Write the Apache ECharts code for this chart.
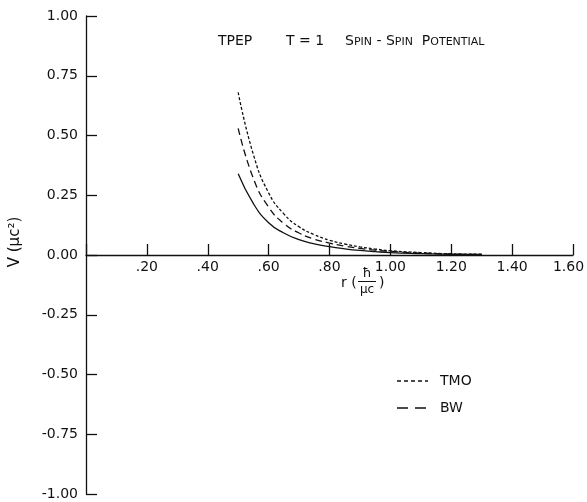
<!DOCTYPE html>
<html><head><meta charset="utf-8">
<script src="https://cdn.jsdelivr.net/npm/echarts@6/dist/echarts.min.js"></script>
<style>html,body{margin:0;padding:0;background:#fff}#c{width:587px;height:502px}</style>
</head><body><div id="c"></div>
<script>
const rValues = [0.5, 0.55, 0.6, 0.65, 0.7, 0.75, 0.8, 0.85, 0.9, 0.95, 1.0, 1.1, 1.2, 1.3];
const solidValues = [0.34, 0.215, 0.135, 0.092, 0.064, 0.047, 0.035, 0.026, 0.019, 0.014, 0.010, 0.006, 0.003, 0.002];
const bwValues    = [0.53, 0.32, 0.20, 0.132, 0.092, 0.066, 0.050, 0.037, 0.028, 0.020, 0.015, 0.008, 0.004, 0.002];
const tmoValues   = [0.68, 0.42, 0.26, 0.172, 0.118, 0.085, 0.062, 0.046, 0.034, 0.025, 0.018, 0.010, 0.005, 0.003];
const xTicks = [0, 0.2, 0.4, 0.6, 0.8, 1.0, 1.2, 1.4, 1.6];
const yTicks = [-1, -0.75, -0.5, -0.25, 0, 0.25, 0.5, 0.75, 1];

const FONT = 'DejaVu Sans';
const GRID_TOP = 16, GRID_BOTTOM = 8, H = 502;
const zeroOffset = -((H - GRID_TOP - GRID_BOTTOM) / 2);
const pairs = v => rValues.map((r, i) => [r, v[i]]);
const chart = echarts.init(document.getElementById('c'), null, {renderer: 'canvas'});
const lineBase = {type: 'line', smooth: true, symbol: 'none', animation: false};
chart.setOption({
  animation: false,
  backgroundColor: '#fff',
  grid: {left: 86, right: 14, top: GRID_TOP, bottom: GRID_BOTTOM, containLabel: false, outerBoundsMode: 'none'},
  xAxis: {
    type: 'value', min: xTicks[0], max: xTicks[xTicks.length - 1], interval: 0.2,
    position: 'bottom', offset: zeroOffset,
    axisLine: {onZero: false, lineStyle: {color: '#111', width: 1.3}},
    axisTick: {inside: true, length: 11, lineStyle: {color: '#111', width: 1.3}},
    axisLabel: {color: '#111', fontFamily: FONT, fontSize: 14, margin: 5, hideOverlap: false,
      rich: {last: {fontFamily: FONT, fontSize: 14, color: '#111', padding: [0, 9, 0, 0]}},
      formatter: v => {
        if (Math.abs(v) < 1e-9) return '';
        const s = v.toFixed(2);
        if (Math.abs(v - xTicks[xTicks.length - 1]) < 1e-9) return '{last|' + s + '}';
        return v < 1 ? s.slice(1) : s;
      }},
    splitLine: {show: false}
  },
  yAxis: {
    type: 'value', min: yTicks[0], max: yTicks[yTicks.length - 1], interval: 0.25,
    axisLine: {onZero: false, lineStyle: {color: '#111', width: 1.3}},
    axisTick: {inside: true, length: 11, lineStyle: {color: '#111', width: 1.3}},
    axisLabel: {color: '#111', fontFamily: FONT, fontSize: 14, margin: 8, hideOverlap: false,
      formatter: v => v.toFixed(2)},
    splitLine: {show: false}
  },
  series: [
    Object.assign({}, lineBase, {name: 'Solid', data: pairs(solidValues), lineStyle: {color: '#111', width: 1.3, type: 'solid'}}),
    Object.assign({}, lineBase, {name: 'BW', data: pairs(bwValues), lineStyle: {color: '#111', width: 1.3, type: [7, 4]}}),
    Object.assign({}, lineBase, {name: 'TMO', data: pairs(tmoValues), lineStyle: {color: '#111', width: 1.3, type: [3, 2]}})
  ],
  graphic: [
    {type: 'text', left: 218, top: 34, style: {text: 'TPEP', fill: '#111', font: '14px ' + FONT}},
    {type: 'text', left: 286, top: 34, style: {text: 'T = 1', fill: '#111', font: '14px ' + FONT}},
    {type: 'text', left: 345, top: 34, style: {
      text: '{b|S}{s|PIN} - {b|S}{s|PIN}  {b|P}{s|OTENTIAL}', fill: '#111',
      rich: {b: {fontSize: 14, fontFamily: FONT, fill: '#111', verticalAlign: 'bottom'},
             s: {fontSize: 11, fontFamily: FONT, fill: '#111', verticalAlign: 'bottom'}},
      font: '14px ' + FONT}},
    {type: 'text', x: 15, y: 242, rotation: Math.PI / 2,
      style: {text: 'V (μc²)', fill: '#111', font: '15px ' + FONT, align: 'center', verticalAlign: 'middle'}},
    {type: 'text', x: 341, y: 283, style: {text: 'r (', fill: '#111', font: '14px ' + FONT, verticalAlign: 'middle'}},
    {type: 'text', x: 367, y: 274, style: {text: 'ħ', fill: '#111', font: '13px ' + FONT, align: 'center', verticalAlign: 'middle'}},
    {type: 'line', shape: {x1: 358, y1: 281.5, x2: 376, y2: 281.5}, style: {stroke: '#111', lineWidth: 1}},
    {type: 'text', x: 367, y: 290, style: {text: 'μc', fill: '#111', font: '12px ' + FONT, align: 'center', verticalAlign: 'middle'}},
    {type: 'text', x: 379, y: 283, style: {text: ')', fill: '#111', font: '14px ' + FONT, verticalAlign: 'middle'}},
    {type: 'line', shape: {x1: 397, y1: 381, x2: 428, y2: 381}, style: {stroke: '#111', lineWidth: 1.3, lineDash: [4, 3]}},
    {type: 'text', x: 440, y: 381, style: {text: 'TMO', fill: '#111', font: '14px ' + FONT, verticalAlign: 'middle'}},
    {type: 'line', shape: {x1: 397, y1: 408, x2: 428, y2: 408}, style: {stroke: '#111', lineWidth: 1.3, lineDash: [11, 7]}},
    {type: 'text', x: 440, y: 408, style: {text: 'BW', fill: '#111', font: '14px ' + FONT, verticalAlign: 'middle'}}
  ]
});
</script></body></html>
